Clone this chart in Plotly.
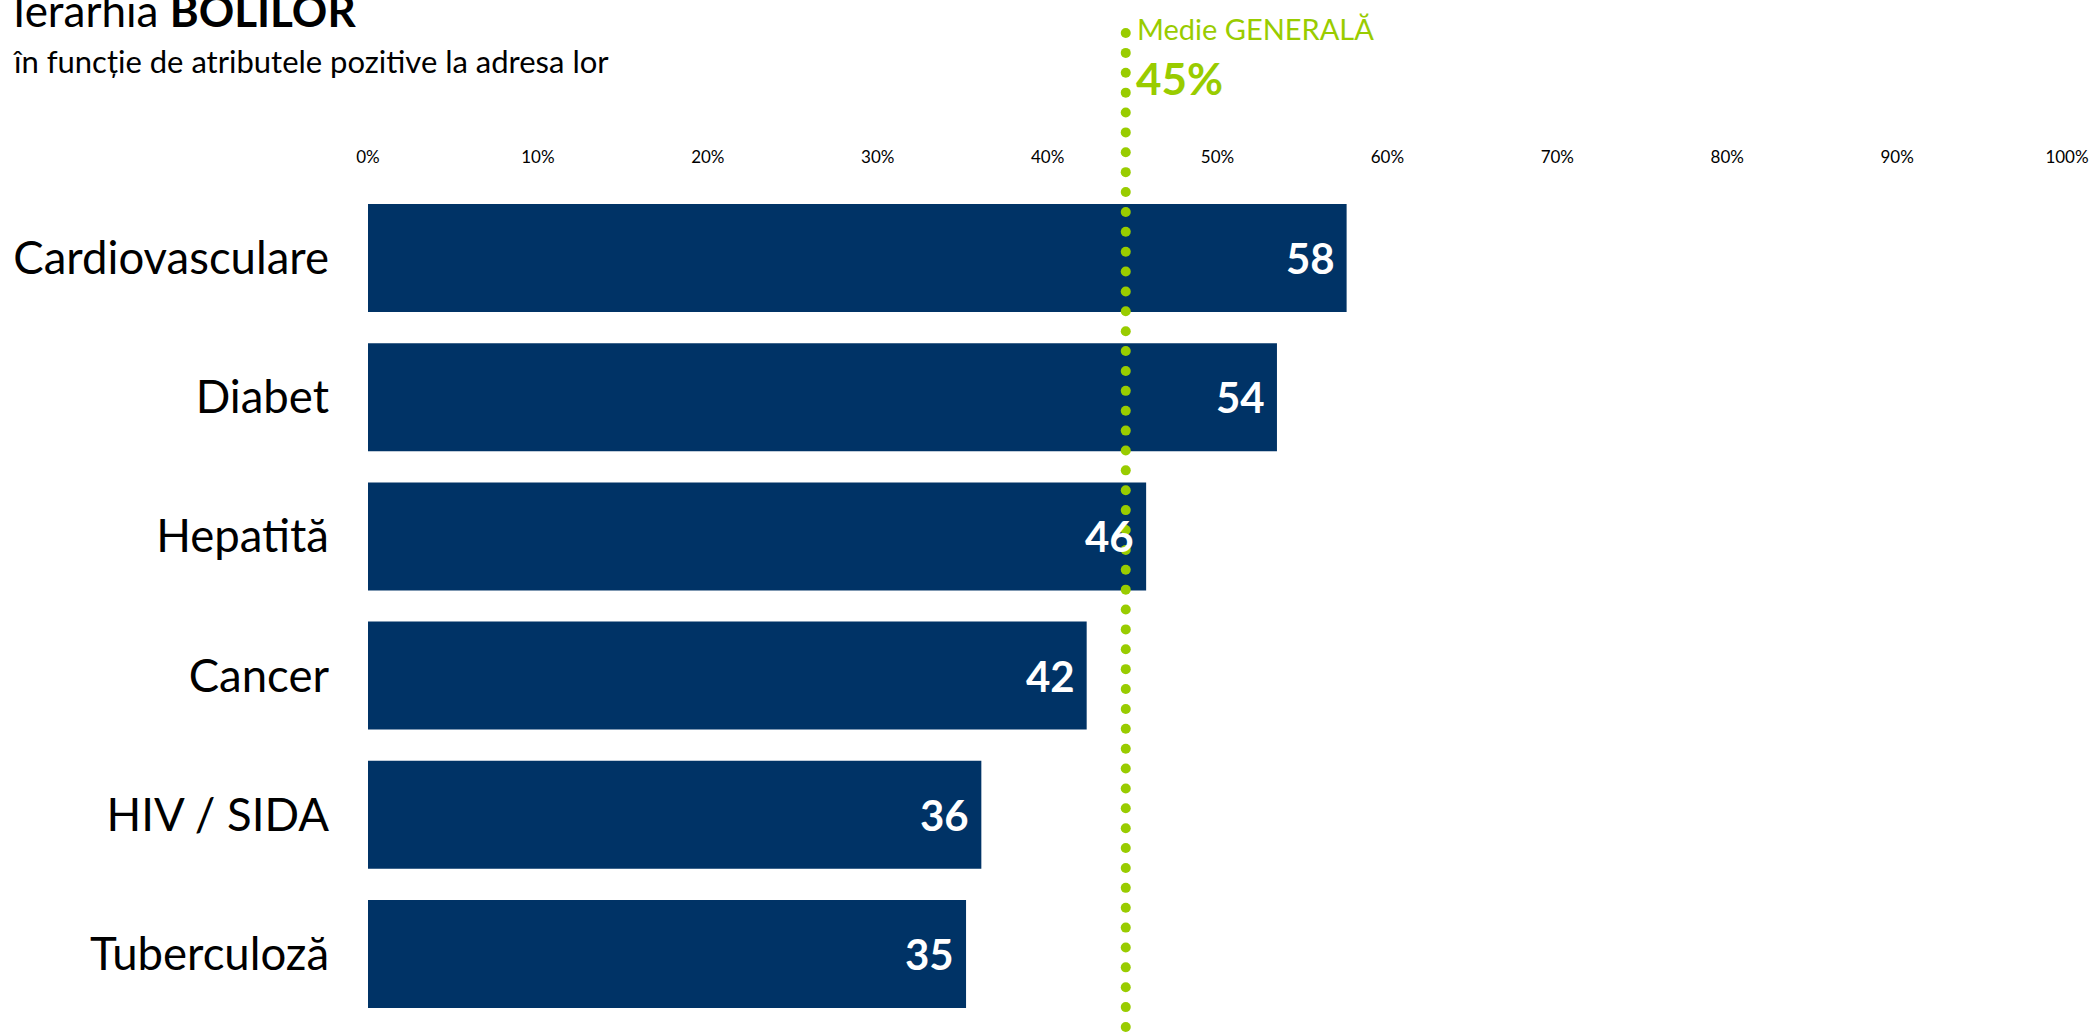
import numpy as np
import plotly.graph_objects as go

categories = ["Cardiovasculare", "Diabet", "Hepatită", "Cancer", "HIV / SIDA", "Tuberculoză"]
values = [57.6, 53.5, 45.8, 42.3, 36.1, 35.2]
value_labels = ["58", "54", "46", "42", "36", "35"]
average = 44.6
average_label = "45%"
tick_vals = [0, 10, 20, 30, 40, 50, 60, 70, 80, 90, 100]
tick_text = [f"{v}%" for v in tick_vals]

W, H = 2091, 1032
ML, MR = 368, 24
PW = W - ML - MR
NAVY = "#003366"
LIME = "#99CC00"
FONT = "Lato"


def px_x(x):
    # figure pixel -> paper x (paper is the plot area)
    return (x - ML) / PW


fig = go.Figure()

fig.add_bar(
    x=values, y=categories, orientation="h",
    marker=dict(color=NAVY, line=dict(width=0)),
    hoverinfo="skip",
)

# value labels inside the bar ends
for cat, val, lab in zip(categories, values, value_labels):
    fig.add_annotation(
        x=val, y=cat, xref="x", yref="y", text=f"<b>{lab}</b>",
        xanchor="right", yanchor="middle", xshift=-10, showarrow=False,
        font=dict(family=FONT, size=42, color="white"),
    )

# dotted average line, drawn on a full-height helper axis
dot_y = np.linspace(5, 999, 51)
fig.add_scatter(
    x=[average] * len(dot_y), y=dot_y, yaxis="y2", mode="markers",
    marker=dict(color=LIME, size=10, line=dict(width=0)),
    hoverinfo="skip", showlegend=False, cliponaxis=False,
)

fig.add_annotation(
    x=average, xref="x", y=(H - 28) / H, yref="paper", text="Medie GENERALĂ",
    xanchor="left", yanchor="middle", xshift=9, showarrow=False,
    font=dict(family=FONT, size=29, color=LIME),
)
fig.add_annotation(
    x=average, xref="x", y=(H - 78) / H, yref="paper", text=f"<b>{average_label}</b>",
    xanchor="left", yanchor="middle", xshift=8, showarrow=False,
    font=dict(family=FONT, size=44, color=LIME),
)

# title block
fig.add_annotation(
    x=px_x(11), xref="paper", y=(H - 10) / H, yref="paper", text="Ierarhia <b>BOLILOR</b>",
    xanchor="left", yanchor="middle", showarrow=False,
    font=dict(family=FONT, size=44, color="black"),
)
fig.add_annotation(
    x=px_x(11), xref="paper", y=(H - 61) / H, yref="paper",
    text="în funcție de atributele pozitive la adresa lor",
    xanchor="left", yanchor="middle", showarrow=False,
    font=dict(family=FONT, size=31, color="black"),
)

fig.update_layout(
    width=W, height=H,
    margin=dict(l=ML, r=MR, t=0, b=0),
    paper_bgcolor="white", plot_bgcolor="rgba(0,0,0,0)",
    showlegend=False, bargap=0.224,
    font=dict(family=FONT, color="black"),
    xaxis=dict(
        range=[0, 100], side="top", anchor="free", position=(H - 166) / H,
        tickvals=tick_vals, ticktext=tick_text, showgrid=False, zeroline=False,
        showline=False, ticks="", tickfont=dict(family=FONT, size=17, color="black"),
    ),
    yaxis=dict(
        domain=[(H - 1023.6) / H, (H - 188.4) / H], autorange="reversed",
        showgrid=False, zeroline=False, showline=False, ticks="",
        ticklabelstandoff=38, tickfont=dict(family=FONT, size=45.5, color="black"),
    ),
    yaxis2=dict(
        domain=[0, 1], range=[0, H], anchor="x", visible=False,
        showgrid=False, zeroline=False,
    ),
)

# full-bleed page, no default body margin
fig.write_html("out.html", config={"displayModeBar": False},
               post_script="document.body.style.margin='0';")
